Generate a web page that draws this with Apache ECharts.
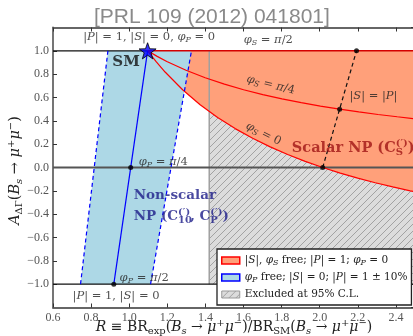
<!DOCTYPE html>
<html><head><meta charset="utf-8">
<script src="https://cdn.jsdelivr.net/npm/echarts@6/dist/echarts.min.js"></script>
<style>html,body{margin:0;padding:0;background:#fff}#c{width:413px;height:336px}</style>
</head><body><div id="c"></div>
<script>
// ---------------- data ----------------
const xRange = [0.6, 2.5];
const yRange = [-1.2, 1.2];
const tickStep = 0.2;

// phi_S = 0 boundary (lower edge of scalar region)
const phiS0R = [1.0965, 1.1148, 1.1425, 1.1884, 1.2803, 1.3722, 1.4641, 1.5560, 1.6479, 1.7399, 1.8318, 1.9237, 2.0156, 2.1075, 2.1994, 2.2913, 2.3832, 2.4752, 2.5];
const phiS0A = [1.0, 0.9608, 0.9048, 0.8182, 0.6667, 0.5385, 0.4286, 0.3333, 0.25, 0.1765, 0.1111, 0.0526, 0.0, -0.0476, -0.0909, -0.1304, -0.1667, -0.2, -0.2086];
// phi_S = pi/4 curve
const phiS45R = [1.0965, 1.1469, 1.1973, 1.2981, 1.3989, 1.4996, 1.6004, 1.7012, 1.8020, 1.9028, 2.0036, 2.1044, 2.2051, 2.3059, 2.4067, 2.5];
const phiS45A = [1.0, 0.9524, 0.9091, 0.8333, 0.7692, 0.7143, 0.6667, 0.625, 0.5882, 0.5556, 0.5263, 0.5, 0.4762, 0.4545, 0.4348, 0.4179];
// phi_S = pi/2 edge (top)
const topEdgeR = [1.0965, 2.5];
const topEdgeA = [1.0, 1.0];
// non-scalar band (|P| = 0.9 .. 1.1) and central line
const bandLeftR = [0.7445, 0.8882];
const bandRightR = [1.1121, 1.3268];
const bandCenterR = [0.9191, 1.0965];
const bandA = [-1.0, 1.0];
// |S| = |P| line
const sEqPR = [2.0156, 2.1930];
const sEqPA = [0.0, 1.0];
// marked points
const dotsR = [1.0078, 0.9191, 2.0156, 2.1044, 2.1930];
const dotsA = [0.0, -1.0, 0.0, 0.5, 1.0];
const smR = [1.0965];
const smA = [1.0];
// excluded region
const exclR = [1.42, 2.5];
const exclA = [-1.0, 1.0];
// reference lines
const refLevels = [-1.0, 0.0, 1.0];

// ---------------- helpers ----------------
const SERIF = '"DejaVu Serif", serif';
const TICKF = '"Liberation Serif", serif';
const zip = (xs, ys) => xs.map((x, i) => [x, ys[i]]);

function rich(size, color, bold) {
  const w = bold ? 'bold' : 'normal';
  const s = Math.round(size * 0.72);
  const base = { fontFamily: SERIF, color: color, fontWeight: w };
  return {
    i: Object.assign({}, base, { fontSize: size, fontStyle: 'italic' }),
    r: Object.assign({}, base, { fontSize: size }),
    b: Object.assign({}, base, { fontSize: size, fontWeight: 'bold' }),
    sub: Object.assign({}, base, { fontSize: s, fontStyle: 'italic', padding: [Math.round(size * 0.5), 0, 0, 0] }),
    subr: Object.assign({}, base, { fontSize: s, padding: [Math.round(size * 0.5), 0, 0, 0] }),
    sup: Object.assign({}, base, { fontSize: s, padding: [0, 0, Math.round(size * 0.6), 0] }),
    bsub0: Object.assign({}, base, { fontSize: s, fontWeight: 'bold', padding: [Math.round(size * 0.6), 0, 0, 0], width: 0.01 }),
    bsup: Object.assign({}, base, { fontSize: s, fontWeight: 'bold', padding: [0, 0, Math.round(size * 0.65), 0] })
  };
}

// hatch pattern
const hatch = document.createElement('canvas');
hatch.width = 7; hatch.height = 7;
(function () {
  const g = hatch.getContext('2d');
  g.fillStyle = '#dcdcdc'; g.fillRect(0, 0, 7, 7);
  g.strokeStyle = '#a2a2a2'; g.lineWidth = 1;
  g.beginPath();
  g.moveTo(-1, 8); g.lineTo(8, -1);
  g.moveTo(-1, 1); g.lineTo(1, -1);
  g.moveTo(6, 8); g.lineTo(8, 6);
  g.stroke();
})();
const hatchFill = { image: hatch, repeat: 'repeat' };

function polySeries(name, pts, style, z) {
  return {
    type: 'custom', name: name, data: pts, z: z, silent: true, animation: false,
    encode: { x: 0, y: 1 },
    itemStyle: { color: style.legendColor },
    renderItem: function (params, api) {
      if (params.dataIndex !== 0) return null;
      return { type: 'polygon', shape: { points: pts.map(p => api.coord(p)) }, style: { fill: style.fill, stroke: style.stroke || null, lineWidth: style.lw || 0 } };
    }
  };
}
function lineS(pts, color, width, type, z) {
  return { type: 'line', data: pts, symbol: 'none', showSymbol: false, silent: true, animation: false, z: z,
    lineStyle: { color: color, width: width, type: type || 'solid' } };
}

const orangePoly = zip(topEdgeR, topEdgeA).concat(zip(phiS0R, phiS0A).reverse());
const bluePoly = [[bandLeftR[0], bandA[0]], [bandLeftR[1], bandA[1]], [bandRightR[1], bandA[1]], [bandRightR[0], bandA[0]]];
const hatchPoly = [[exclR[0], exclA[0]], [exclR[1], exclA[0]], [exclR[1], exclA[1]], [exclR[0], exclA[1]]];

// annotations (layout only)
const notes = [
  { at: [0.756, 1.12], t: '{i||P|}{r| = 1, }{i||S|}{r| = 0, }{i|φ}{sub|P}{r| = 0}', size: 11.5, color: '#222' },
  { at: [1.598, 1.094], t: '{i|φ}{sub|S}{r| = }{i|π}{r|/2}', size: 11.5, color: '#222' },
  { at: [0.909, 0.906], t: '{b|SM}', size: 15, color: '#111', bold: true },
  { at: [1.047, 0.045], t: '{i|φ}{sub|P}{r| = }{i|π}{r|/4}', size: 11.5, color: '#222' },
  { at: [2.153, 0.614], t: '{i||S|}{r| = }{i||P|}', size: 11.5, color: '#222' },
  { at: [1.742, 0.708], t: '{i|φ}{sub|S}{r| = }{i|π}{r|/4}', size: 11.5, color: '#222', rotate: -14 },
  { at: [1.705, 0.288], t: '{i|φ}{sub|S}{r| = 0}', size: 11.5, color: '#222', rotate: -27 },
  { at: [1.851, 0.167], t: '{b|Scalar NP (C}{bsub0|S}{bsup|(′)}{b|)}', size: 14.5, color: '#a01515', bold: true },
  { at: [1.021, -0.236], t: '{b|Non-scalar}', size: 13.5, color: '#1c1c88', bold: true },
  { at: [1.021, -0.422], t: '{b|NP (C}{bsub0|10}{bsup|(′)}{b|, C}{bsub0|P}{bsup|(′)}{b|)}', size: 13.5, color: '#1c1c88', bold: true },
  { at: [0.947, -0.946], t: '{i|φ}{sub|P}{r| = }{i|π}{r|/2}', size: 11.5, color: '#222' },
  { at: [0.700, -1.103], t: '{i||P|}{r| = 1, }{i||S|}{r| = 0}', size: 11.5, color: '#222' }
];

const legendText = {
  scalar: '{i||S|}{r|, }{i|φ}{sub|S}{r| free; }{i||P|}{r| = 1; }{i|φ}{sub|P}{r| = 0}',
  nonscalar: '{i|φ}{sub|P}{r| free; }{i||S|}{r| = 0; }{i||P|}{r| = 1 ± 10%}',
  excluded: '{r|Excluded at 95% C.L.}'
};

const fmtTick = v => (v < 0 ? '\u2212' : '') + Math.abs(v).toFixed(1);
const axisLine = { show: true, onZero: false, lineStyle: { color: '#666', width: 1.8 } };
const axisTick = { show: true, inside: true, length: 4, lineStyle: { color: '#333', width: 1 } };

const chart = echarts.init(document.getElementById('c'), null, { renderer: 'canvas' });
chart.setOption({
  animation: false,
  backgroundColor: '#fff',
  title: { text: '[PRL 109 (2012) 041801]', left: 89, top: 2,
    textStyle: { fontFamily: '"Liberation Sans", sans-serif', fontSize: 21, fontWeight: 'normal', color: '#8a8a8a' } },
  grid: { left: 53, right: -2, top: 27.5, bottom: 28.5, containLabel: false, outerBoundsMode: 'none' },
  xAxis: [
    { type: 'value', min: xRange[0], max: xRange[1], interval: tickStep, position: 'bottom',
      axisLine: axisLine, axisTick: axisTick, splitLine: { show: false },
      axisLabel: { formatter: fmtTick, fontFamily: TICKF, fontSize: 12, color: '#555', margin: 4, showMaxLabel: false },
      name: '{i|R}{r| ≡ BR}{subr|exp}{r|(}{i|B}{sub|s}{r| → }{i|μ}{sup|+}{i|μ}{sup|−}{r|)/BR}{subr|SM}{r|(}{i|B}{sub|s}{r| → }{i|μ}{sup|+}{i|μ}{sup|−}{r|)}',
      nameLocation: 'middle', nameGap: 11, nameMoveOverlap: false,
      nameTextStyle: { rich: rich(14, '#222') } },
    { type: 'value', min: xRange[0], max: xRange[1], interval: tickStep, position: 'top',
      axisLine: axisLine, axisTick: axisTick, splitLine: { show: false }, axisLabel: { show: false } }
  ],
  yAxis: [
    { type: 'value', min: yRange[0], max: yRange[1], interval: tickStep, position: 'left',
      axisLine: axisLine, axisTick: axisTick, splitLine: { show: false },
      axisLabel: { formatter: fmtTick, fontFamily: TICKF, fontSize: 12, color: '#555', margin: 4, showMaxLabel: false, showMinLabel: false },
      name: '{i|A}{subr|ΔΓ}{r|(}{i|B}{sub|s}{r| → }{i|μ}{sup|+}{i|μ}{sup|−}{r|)}',
      nameLocation: 'middle', nameGap: 28, nameRotate: 90, nameMoveOverlap: false,
      nameTextStyle: { rich: rich(14.5, '#222'), padding: [0, 6, 0, 0] } },
    { type: 'value', min: yRange[0], max: yRange[1], interval: tickStep, position: 'right',
      axisLine: axisLine, axisTick: axisTick, splitLine: { show: false }, axisLabel: { show: false } }
  ],
  legend: {
    left: 217, top: 249, orient: 'vertical', selectedMode: false,
    backgroundColor: '#fff', borderColor: '#222', borderWidth: 1.3, borderRadius: 0,
    padding: [6, 4, 5, 4], itemGap: 5, itemWidth: 18, itemHeight: 7, icon: 'rect',
    data: [
      { name: 'scalar', itemStyle: { color: '#ffa07a', borderColor: '#ff0000', borderWidth: 1.5 } },
      { name: 'nonscalar', itemStyle: { color: '#add8e6', borderColor: '#0000ff', borderWidth: 1.5 } },
      { name: 'excluded', itemStyle: { color: hatchFill, borderColor: '#999', borderWidth: 1 } }
    ],
    formatter: n => legendText[n],
    textStyle: { rich: rich(10.5, '#222'), padding: [0, 0, 0, 0] }
  },
  series: [
    polySeries('excluded', hatchPoly, { fill: hatchFill, legendColor: '#cccccc' }, 1),
    polySeries('scalar', orangePoly, { fill: '#ffa07a', legendColor: '#ffa07a' }, 2),
    polySeries('nonscalar', bluePoly, { fill: '#add8e6', legendColor: '#add8e6' }, 2),
    lineS([[exclR[0], exclA[0]], [exclR[0], exclA[1]]], '#a0a0a0', 1.5, 'solid', 3),
    lineS([[xRange[0], refLevels[1]], [xRange[1], refLevels[1]]], '#555', 2, 'solid', 3),
    lineS([[xRange[0], refLevels[0]], [xRange[1], refLevels[0]]], '#111', 1.3, 'solid', 3),
    lineS([[xRange[0], refLevels[2]], [topEdgeR[0], refLevels[2]]], '#111', 1.3, 'solid', 3),
    lineS(zip(topEdgeR, topEdgeA), '#d40000', 1.5, 'solid', 4),
    lineS(zip(phiS0R, phiS0A), '#ff0000', 1.2, 'solid', 4),
    lineS(zip(phiS45R, phiS45A), '#ff0000', 1.2, 'solid', 4),
    lineS(zip(bandCenterR, bandA), '#0000ff', 1.2, 'solid', 4),
    lineS(zip(bandLeftR, bandA), '#0000ff', 1.2, [4, 3], 4),
    lineS(zip(bandRightR, bandA), '#0000ff', 1.2, [4, 3], 4),
    lineS(zip(sEqPR, sEqPA), '#111', 1.2, [4, 3], 4),
    { type: 'scatter', data: zip(dotsR, dotsA), symbol: 'circle', symbolSize: 5, silent: true, z: 5,
      itemStyle: { color: '#000' } },
    { type: 'scatter', data: zip(smR, smA), silent: true, z: 6, symbolKeepAspect: true,
      symbol: 'path://M0,-10 L2.35,-3.24 L9.51,-3.09 L3.8,1.24 L5.88,8.09 L0,4 L-5.88,8.09 L-3.8,1.24 L-9.51,-3.09 L-2.35,-3.24 Z',
      symbolSize: 17, itemStyle: { color: '#0000ff', borderColor: '#000', borderWidth: 1 } },
    { type: 'scatter', silent: true, z: 7, symbolSize: 1, itemStyle: { color: 'rgba(0,0,0,0)' },
      data: notes.map(n => ({
        value: n.at,
        label: { show: true, formatter: n.t, rich: rich(n.size, n.color, n.bold),
          position: n.rotate ? 'inside' : 'right', distance: 0, rotate: n.rotate || 0 }
      })) }
  ]
});
</script></body></html>
